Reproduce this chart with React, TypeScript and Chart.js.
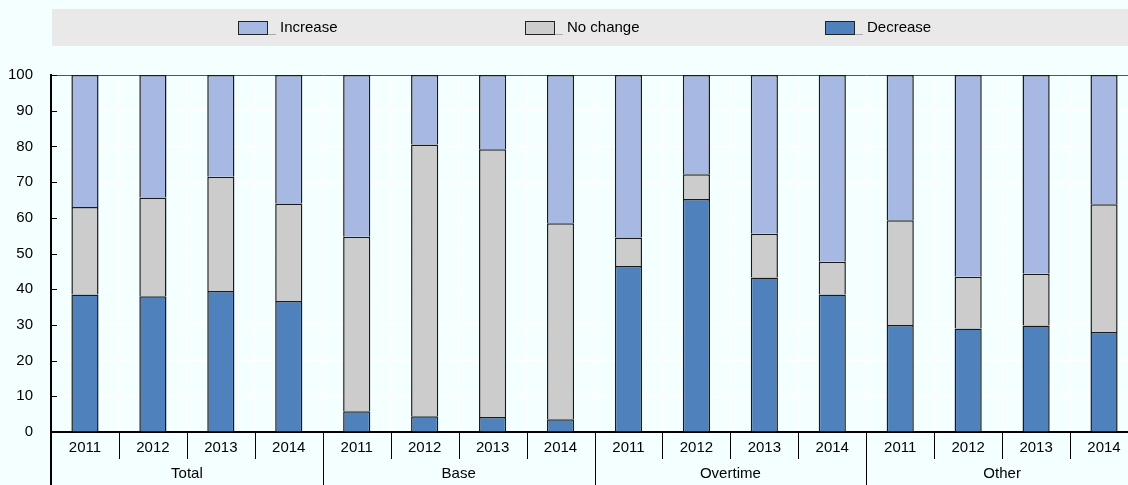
import React, { useEffect, useRef } from 'react';
import { Chart, registerables } from 'chart.js';
Chart.register(...registerables);

const years = ['2011', '2012', '2013', '2014'];
const groups = ['Total', 'Base', 'Overtime', 'Other'];
const decrease = [38.5, 38, 39.5, 36.7, 5.8, 4.4, 4.2, 3.6, 46.5, 65.3, 43.3, 38.5, 30, 29, 29.8, 28];
const noChange = [24.5, 27.7, 32, 27.3, 48.9, 76.1, 75, 54.9, 8, 6.9, 12.2, 9.2, 29.3, 14.5, 14.5, 35.8];
const increase = [37, 34.3, 28.5, 36, 45.3, 19.5, 20.8, 41.5, 45.5, 27.8, 44.5, 52.3, 40.7, 56.5, 55.7, 36.2];
const seriesNames = ['Decrease', 'No change', 'Increase'];
const seriesColors = ['#4F81BD', '#CCCCCC', '#A7B9E3'];

const FONT = '"Liberation Sans", Arial, sans-serif';
const BG = '#F4FFFF';
const TEXT = '#000';

export default function App() {
  const ref = useRef<HTMLCanvasElement>(null);
  useEffect(() => {
    const labels = groups.flatMap(() => years);
    const legendX = [238, 525, 825];
    const plugin = {
      id: 'custom',
      beforeDraw(chart: any) {
        const { ctx, width, height } = chart;
        ctx.save();
        ctx.fillStyle = BG;
        ctx.fillRect(0, 0, width, height);
        ctx.fillStyle = '#E9E9E9';
        ctx.fillRect(52, 9, width - 52, 37);
        const order = [2, 1, 0];
        ctx.font = `15px ${FONT}`;
        ctx.textBaseline = 'middle';
        ctx.textAlign = 'left';
        order.forEach((di, k) => {
          const ds = chart.data.datasets[di];
          const x = legendX[k];
          ctx.fillStyle = ds.backgroundColor;
          ctx.fillRect(x, 21, 30, 14);
          ctx.strokeStyle = '#222';
          ctx.lineWidth = 1;
          ctx.strokeRect(x + 0.5, 21.5, 29, 13);
          ctx.strokeStyle = '#aaa';
          ctx.beginPath();
          ctx.moveTo(x + 30, 34.5);
          ctx.lineTo(x + 38, 34.5);
          ctx.stroke();
          ctx.fillStyle = TEXT;
          ctx.fillText(ds.label, x + 42, 28);
        });
        ctx.restore();
      },
      afterDraw(chart: any) {
        const { ctx } = chart;
        const xs = chart.scales.x;
        const ys = chart.scales.y;
        const area = chart.chartArea;
        const n = labels.length;
        const cw = xs.getPixelForValue(1) - xs.getPixelForValue(0);
        ctx.save();
        ctx.font = `15px ${FONT}`;
        ctx.fillStyle = TEXT;
        ctx.textAlign = 'center';
        ctx.textBaseline = 'middle';
        for (let i = 0; i < n; i++) {
          ctx.fillText(labels[i], xs.getPixelForValue(i), 448);
        }
        groups.forEach((g, gi) => {
          const c = (xs.getPixelForValue(gi * 4) + xs.getPixelForValue(gi * 4 + 3)) / 2;
          ctx.fillText(g, c, 474);
        });
        ctx.strokeStyle = '#000';
        ctx.lineWidth = 1;
        for (let k = 1; k <= n; k++) {
          const x = Math.round(xs.getPixelForValue(k) - cw / 2) + 0.5;
          ctx.beginPath();
          ctx.moveTo(x, area.bottom);
          ctx.lineTo(x, k % 4 === 0 ? 485 : 459);
          ctx.stroke();
        }
        ctx.lineWidth = 2;
        ctx.beginPath();
        ctx.moveTo(area.left, area.bottom);
        ctx.lineTo(area.left, 485);
        ctx.stroke();
        ctx.lineWidth = 1;
        ys.ticks.forEach((t: any) => {
          if (t.value === 0) return;
          const y = Math.round(ys.getPixelForValue(t.value)) + 0.5;
          ctx.beginPath();
          ctx.moveTo(area.left, y);
          ctx.lineTo(area.left + 6, y);
          ctx.stroke();
        });
        ctx.restore();
      },
    };
    const chart = new Chart(ref.current!, {
      type: 'bar',
      data: {
        labels,
        datasets: [decrease, noChange, increase].map((d, i) => ({
          label: seriesNames[i],
          data: d,
          backgroundColor: seriesColors[i],
          borderColor: '#1a1a1a',
          borderWidth: 1.5,
          barPercentage: 0.4,
          categoryPercentage: 1,
        })),
      },
      options: {
        animation: false,
        responsive: true,
        maintainAspectRatio: false,
        layout: { padding: { top: 75, left: 0, right: 2, bottom: 0 } },
        plugins: { legend: { display: false }, tooltip: { enabled: false } },
        scales: {
          x: {
            stacked: true,
            grid: { color: '#fff', offset: true, drawTicks: false },
            border: { display: true, color: '#000', width: 2 },
            ticks: { display: false },
            afterFit: (s: any) => { s.height = 53; },
          },
          y: {
            stacked: true,
            min: 0,
            max: 100,
            grid: {
              color: (c: any) => (c.tick && c.tick.value === 100 ? '#555' : '#fff'),
              drawTicks: false,
            },
            border: { display: true, color: '#000', width: 2 },
            ticks: { stepSize: 10, padding: 18, color: TEXT, font: { family: FONT, size: 15 } },
            afterFit: (s: any) => { s.width = 51; },
          },
        },
      },
      plugins: [plugin],
    });
    return () => chart.destroy();
  }, []);
  return (
    <div style={{ position: 'fixed', left: 0, top: 0, width: 1128, height: 485, overflow: 'hidden', background: BG }}>
      <div style={{ position: 'relative', width: 1140, height: 485 }}>
        <canvas ref={ref} />
      </div>
    </div>
  );
}
